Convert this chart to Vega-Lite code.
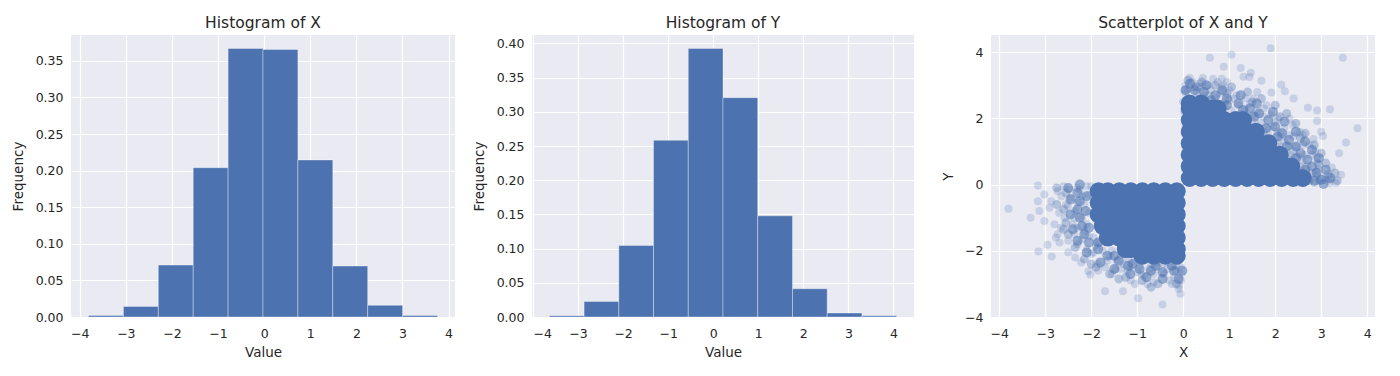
{
  "$schema": "https://vega.github.io/schema/vega-lite/v6.json",
  "padding": {"left": 11, "top": 15, "right": 0, "bottom": 0},
  "background": "white",
  "spacing": 77,
  "bounds": "flush",
  "config": {
    "view": {"fill": "#EAEAF2", "stroke": null},
    "axis": {
      "grid": true, "gridColor": "#FFFFFF", "gridWidth": 1.2, "gridOpacity": 1,
      "domain": false, "ticks": false,
      "labelFont": "DejaVu Sans", "labelFontSize": 12.5, "labelColor": "#262626",
      "titleFont": "DejaVu Sans", "titleFontSize": 13.5, "titleFontWeight": "normal", "titleColor": "#262626",
      "labelPadding": 10, "titlePadding": 6
    },
    "axisY": {"labelPadding": 8, "titlePadding": 9.5},
    "title": {"font": "DejaVu Sans", "fontSize": 15.5, "fontWeight": "normal", "color": "#262626", "offset": 4}
  },
  "datasets": {
    "hx": [
      {"start": -3.81, "end": -3.053, "density": 0.002},
      {"start": -3.053, "end": -2.296, "density": 0.0145},
      {"start": -2.296, "end": -1.539, "density": 0.0709},
      {"start": -1.539, "end": -0.782, "density": 0.204},
      {"start": -0.782, "end": -0.025, "density": 0.367},
      {"start": -0.025, "end": 0.732, "density": 0.3656},
      {"start": 0.732, "end": 1.489, "density": 0.2146},
      {"start": 1.489, "end": 2.246, "density": 0.0696},
      {"start": 2.246, "end": 3.003, "density": 0.0159},
      {"start": 3.003, "end": 3.76, "density": 0.002}
    ],
    "hy": [
      {"start": -3.637, "end": -2.866, "density": 0.0019},
      {"start": -2.866, "end": -2.095, "density": 0.0228},
      {"start": -2.095, "end": -1.325, "density": 0.1046},
      {"start": -1.325, "end": -0.554, "density": 0.2584},
      {"start": -0.554, "end": 0.217, "density": 0.3928},
      {"start": 0.217, "end": 0.988, "density": 0.3207},
      {"start": 0.988, "end": 1.759, "density": 0.1479},
      {"start": 1.759, "end": 2.529, "density": 0.0413},
      {"start": 2.529, "end": 3.3, "density": 0.0058},
      {"start": 3.3, "end": 4.071, "density": 0.0017}
    ],
    "core": [
      {"x":0.14,"y":0.2},{"x":0.39,"y":0.2},{"x":0.64,"y":0.2},{"x":0.89,"y":0.2},{"x":1.14,"y":0.2},{"x":1.39,"y":0.2},{"x":1.64,"y":0.2},{"x":1.89,"y":0.2},{"x":2.14,"y":0.2},{"x":2.39,"y":0.2},{"x":2.6,"y":0.2},
      {"x":0.14,"y":0.55},{"x":0.39,"y":0.55},{"x":0.64,"y":0.55},{"x":0.89,"y":0.55},{"x":1.14,"y":0.55},{"x":1.39,"y":0.55},{"x":1.64,"y":0.55},{"x":1.89,"y":0.55},{"x":2.14,"y":0.55},{"x":2.35,"y":0.55},
      {"x":0.14,"y":0.9},{"x":0.39,"y":0.9},{"x":0.64,"y":0.9},{"x":0.89,"y":0.9},{"x":1.14,"y":0.9},{"x":1.39,"y":0.9},{"x":1.64,"y":0.9},{"x":1.89,"y":0.9},{"x":2.1,"y":0.9},
      {"x":0.14,"y":1.25},{"x":0.39,"y":1.25},{"x":0.64,"y":1.25},{"x":0.89,"y":1.25},{"x":1.14,"y":1.25},{"x":1.39,"y":1.25},{"x":1.64,"y":1.25},{"x":1.85,"y":1.25},
      {"x":0.14,"y":1.6},{"x":0.39,"y":1.6},{"x":0.64,"y":1.6},{"x":0.89,"y":1.6},{"x":1.14,"y":1.6},{"x":1.39,"y":1.6},{"x":1.58,"y":1.6},
      {"x":0.14,"y":1.95},{"x":0.39,"y":1.95},{"x":0.64,"y":1.95},{"x":0.89,"y":1.95},{"x":1.14,"y":1.95},{"x":1.3,"y":1.95},
      {"x":0.14,"y":2.3},{"x":0.39,"y":2.3},{"x":0.64,"y":2.3},{"x":0.75,"y":2.3},
      {"x":0.14,"y":2.45},{"x":0.39,"y":2.45},
      {"x":-0.14,"y":-0.2},{"x":-0.39,"y":-0.2},{"x":-0.64,"y":-0.2},{"x":-0.89,"y":-0.2},{"x":-1.14,"y":-0.2},{"x":-1.39,"y":-0.2},{"x":-1.64,"y":-0.2},{"x":-1.84,"y":-0.2},
      {"x":-0.14,"y":-0.55},{"x":-0.39,"y":-0.55},{"x":-0.64,"y":-0.55},{"x":-0.89,"y":-0.55},{"x":-1.14,"y":-0.55},{"x":-1.39,"y":-0.55},{"x":-1.64,"y":-0.55},{"x":-1.84,"y":-0.55},
      {"x":-0.14,"y":-0.9},{"x":-0.39,"y":-0.9},{"x":-0.64,"y":-0.9},{"x":-0.89,"y":-0.9},{"x":-1.14,"y":-0.9},{"x":-1.39,"y":-0.9},{"x":-1.64,"y":-0.9},{"x":-1.84,"y":-0.9},
      {"x":-0.14,"y":-1.25},{"x":-0.39,"y":-1.25},{"x":-0.64,"y":-1.25},{"x":-0.89,"y":-1.25},{"x":-1.14,"y":-1.25},{"x":-1.39,"y":-1.25},{"x":-1.64,"y":-1.25},{"x":-1.75,"y":-1.25},
      {"x":-0.14,"y":-1.6},{"x":-0.39,"y":-1.6},{"x":-0.64,"y":-1.6},{"x":-0.89,"y":-1.6},{"x":-1.14,"y":-1.6},{"x":-1.39,"y":-1.6},{"x":-1.64,"y":-1.6},
      {"x":-0.14,"y":-1.95},{"x":-0.39,"y":-1.95},{"x":-0.64,"y":-1.95},{"x":-0.89,"y":-1.95},{"x":-1.14,"y":-1.95},{"x":-1.25,"y":-1.95},
      {"x":-0.14,"y":-2.15},{"x":-0.39,"y":-2.15},{"x":-0.64,"y":-2.15},{"x":-0.89,"y":-2.15}
    ],
    "mid": [
      {"x":0.05,"y":2.85},{"x":0.25,"y":2.85},{"x":0.45,"y":2.8},{"x":0.7,"y":2.7},{"x":0.95,"y":2.6},{"x":1.2,"y":2.45},{"x":1.45,"y":2.3},{"x":1.65,"y":2.15},{"x":1.85,"y":1.95},{"x":2.0,"y":1.75},{"x":2.15,"y":1.55},{"x":2.3,"y":1.35},{"x":2.45,"y":1.15},{"x":2.55,"y":0.95},{"x":2.7,"y":0.75},{"x":2.8,"y":0.55},{"x":2.9,"y":0.35},{"x":3.0,"y":0.15},{"x":3.05,"y":0.02},{"x":0.15,"y":3.05},{"x":0.5,"y":3.0},{"x":0.85,"y":2.85},{"x":1.25,"y":2.7},{"x":1.6,"y":2.45},{"x":1.95,"y":2.2},{"x":2.2,"y":1.9},{"x":2.45,"y":1.6},{"x":2.65,"y":1.3},{"x":2.8,"y":1.05},{"x":2.95,"y":0.8},{"x":3.1,"y":0.45},{"x":3.2,"y":0.2},
      {"x":0.95,"y":2.4},{"x":1.3,"y":2.25},{"x":1.55,"y":2.05},{"x":1.8,"y":1.7},{"x":2.05,"y":1.45},{"x":2.25,"y":1.15},{"x":2.45,"y":0.8},{"x":2.65,"y":0.45},{"x":2.85,"y":0.12},{"x":0.6,"y":2.55},
      {"x":-2.25,"y":0.0},{"x":-2.3,"y":-0.25},{"x":-2.25,"y":-0.5},{"x":-2.3,"y":-0.75},{"x":-2.25,"y":-1.0},{"x":-2.2,"y":-1.25},{"x":-2.15,"y":-1.5},{"x":-2.05,"y":-1.75},{"x":-1.85,"y":-1.95},{"x":-1.65,"y":-2.15},{"x":-1.4,"y":-2.3},{"x":-1.2,"y":-2.45},{"x":-0.95,"y":-2.55},{"x":-0.7,"y":-2.6},{"x":-0.45,"y":-2.65},{"x":-0.2,"y":-2.6},{"x":-0.02,"y":-2.6},{"x":-2.5,"y":-0.1},{"x":-2.45,"y":-0.45},{"x":-2.45,"y":-0.9},{"x":-2.4,"y":-1.35},{"x":-2.3,"y":-1.7},{"x":-2.1,"y":-2.05},{"x":-1.8,"y":-2.35},{"x":-1.5,"y":-2.55},{"x":-1.15,"y":-2.7},{"x":-0.8,"y":-2.8},{"x":-0.45,"y":-2.85},{"x":-0.1,"y":-2.85},
      {"x":-2.1,"y":-0.35},{"x":-2.12,"y":-0.8},{"x":-2.05,"y":-1.3},{"x":-1.85,"y":-1.75},{"x":-1.5,"y":-2.15},{"x":-1.1,"y":-2.4},{"x":-0.6,"y":-2.45},{"x":-0.25,"y":-2.45}
    ],
    "mid2": [
      {"x":0.1,"y":3.15},{"x":0.4,"y":3.1},{"x":0.7,"y":3.0},{"x":1.05,"y":2.95},{"x":1.4,"y":2.8},{"x":1.7,"y":2.6},{"x":2.0,"y":2.4},{"x":2.25,"y":2.15},{"x":2.45,"y":1.85},{"x":2.65,"y":1.55},{"x":2.85,"y":1.2},{"x":3.0,"y":0.95},{"x":3.1,"y":0.65},{"x":3.3,"y":0.35},{"x":3.35,"y":0.12},{"x":0.3,"y":2.95},{"x":0.95,"y":2.75},{"x":1.5,"y":2.5},{"x":2.1,"y":2.05},{"x":2.55,"y":1.4},{"x":2.95,"y":0.6},{"x":3.15,"y":0.3},
      {"x":-2.55,"y":-0.25},{"x":-2.6,"y":-0.75},{"x":-2.55,"y":-1.15},{"x":-2.5,"y":-1.5},{"x":-2.35,"y":-1.9},{"x":-2.15,"y":-2.25},{"x":-1.9,"y":-2.5},{"x":-1.6,"y":-2.7},{"x":-1.25,"y":-2.8},{"x":-0.9,"y":-2.9},{"x":-0.55,"y":-3.0},{"x":-0.15,"y":-3.0},{"x":-2.75,"y":-0.1},{"x":-2.75,"y":-0.6},{"x":-2.6,"y":-1.35},{"x":-2.0,"y":-2.4},{"x":-1.4,"y":-2.85},{"x":-0.7,"y":-3.1}
    ],
    "pts": [
      {"x":0.58,"y":3.83},{"x":1.05,"y":3.92},{"x":1.9,"y":4.12},{"x":3.47,"y":3.83},{"x":0.88,"y":3.56},{"x":1.25,"y":3.52},{"x":1.47,"y":3.38},{"x":1.31,"y":3.26},{"x":1.44,"y":3.25},{"x":1.7,"y":3.14},{"x":2.13,"y":3.02},{"x":2.21,"y":2.82},{"x":1.92,"y":2.78},{"x":1.61,"y":2.8},{"x":2.4,"y":2.6},{"x":2.71,"y":2.32},{"x":2.91,"y":2.24},{"x":3.19,"y":2.28},{"x":3.79,"y":1.7},{"x":2.91,"y":1.92},{"x":3.0,"y":1.6},{"x":3.04,"y":1.47},{"x":3.54,"y":1.27},{"x":3.39,"y":0.95},{"x":3.23,"y":0.52},{"x":3.43,"y":0.3},{"x":3.32,"y":0.05},{"x":3.18,"y":0.05},{"x":2.83,"y":1.38},{"x":2.87,"y":1.0},{"x":0.14,"y":3.22},{"x":0.43,"y":3.22},{"x":0.84,"y":3.2},{"x":0.87,"y":3.0},{"x":0.04,"y":2.85},{"x":0.4,"y":2.95},{"x":0.56,"y":2.7},{"x":0.83,"y":2.95},{"x":1.16,"y":2.7},{"x":1.52,"y":2.6},{"x":1.81,"y":2.4},{"x":1.91,"y":2.1},{"x":2.06,"y":2.0},{"x":2.31,"y":2.0},{"x":2.38,"y":1.8},{"x":2.53,"y":1.6},{"x":2.6,"y":1.5},{"x":2.74,"y":1.2},{"x":2.81,"y":0.9},{"x":2.92,"y":0.65},{"x":2.89,"y":0.4},{"x":3.03,"y":0.2},{"x":2.74,"y":0.1},{"x":2.45,"y":0.3},{"x":2.31,"y":1.5},
      {"x":0.05,"y":2.75},{"x":0.15,"y":2.9},{"x":0.3,"y":2.8},{"x":0.45,"y":2.7},{"x":0.6,"y":2.85},{"x":0.2,"y":3.1},{"x":0.35,"y":3.05},{"x":0.7,"y":2.6},{"x":0.9,"y":2.5},{"x":1.0,"y":2.55},{"x":1.2,"y":2.4},{"x":1.35,"y":2.3},{"x":1.45,"y":2.45},{"x":1.6,"y":2.2},{"x":1.75,"y":2.05},{"x":1.7,"y":1.85},{"x":1.95,"y":1.75},{"x":2.05,"y":1.6},{"x":2.0,"y":1.4},{"x":2.2,"y":1.3},{"x":2.3,"y":1.15},{"x":2.4,"y":1.0},{"x":2.5,"y":0.85},{"x":2.35,"y":0.75},{"x":2.6,"y":0.7},{"x":2.7,"y":0.55},{"x":2.55,"y":0.4},{"x":2.8,"y":0.35},{"x":2.9,"y":0.25},{"x":2.75,"y":0.15},{"x":2.95,"y":0.1},{"x":3.1,"y":0.15},{"x":2.6,"y":0.05},{"x":1.5,"y":2.1},{"x":1.85,"y":1.7},{"x":2.15,"y":1.45},{"x":2.45,"y":1.15},{"x":2.65,"y":0.9},{"x":0.8,"y":2.75},{"x":1.1,"y":2.6},{"x":0.55,"y":3.0},{"x":0.25,"y":2.95},{"x":0.75,"y":3.1},{"x":0.95,"y":3.1},{"x":0.9,"y":2.35},{"x":1.25,"y":2.15},{"x":1.55,"y":1.9},{"x":1.85,"y":1.5},{"x":2.1,"y":1.15},{"x":2.35,"y":0.9},{"x":2.55,"y":0.55},{"x":2.7,"y":0.3},{"x":2.85,"y":0.05},{"x":0.1,"y":2.6},{"x":0.3,"y":2.6},{"x":0.5,"y":2.45},{"x":1.05,"y":2.25},{"x":1.4,"y":2.0},{"x":1.75,"y":1.6},{"x":2.05,"y":1.25},{"x":2.25,"y":0.95},{"x":2.45,"y":0.6},{"x":2.6,"y":0.2},{"x":0.05,"y":3.0},{"x":0.0,"y":2.5},{"x":0.02,"y":2.2},{"x":3.2,"y":0.15},{"x":2.95,"y":0.45},{"x":2.9,"y":0.8},{"x":2.6,"y":1.2},{"x":2.4,"y":1.45},{"x":2.2,"y":1.7},{"x":2.0,"y":1.9},{"x":1.75,"y":2.3},{"x":1.35,"y":2.6},{"x":1.0,"y":2.85},{"x":0.65,"y":3.2},
      {"x":-3.8,"y":-0.73},{"x":-3.16,"y":-0.03},{"x":-3.32,"y":-1.0},{"x":-3.13,"y":-0.8},{"x":-3.02,"y":-1.1},{"x":-2.95,"y":-1.82},{"x":-3.15,"y":-2.02},{"x":-2.86,"y":-2.17},{"x":-2.5,"y":-2.05},{"x":-2.69,"y":-1.75},{"x":-2.73,"y":-1.5},{"x":-2.77,"y":-1.6},{"x":-2.22,"y":-2.35},{"x":-2.06,"y":-2.62},{"x":-2.02,"y":-2.72},{"x":-1.7,"y":-3.22},{"x":-1.31,"y":-3.22},{"x":-0.98,"y":-3.43},{"x":-0.45,"y":-3.62},{"x":-0.06,"y":-3.3},{"x":-0.09,"y":-3.05},{"x":-0.78,"y":-3.0},{"x":-0.64,"y":-2.95},{"x":-1.14,"y":-2.9},{"x":-1.47,"y":-2.55},{"x":-1.86,"y":-2.4},{"x":-2.87,"y":-0.5},{"x":-3.02,"y":-0.3},{"x":-2.73,"y":-0.2},{"x":-3.16,"y":-0.5},{"x":-2.91,"y":-0.7},{"x":-2.58,"y":-1.0},{"x":-2.66,"y":-1.3},{"x":-2.37,"y":-1.5},{"x":-2.3,"y":-1.8},{"x":-2.0,"y":-2.1},{"x":-1.65,"y":-2.3},{"x":-1.21,"y":-2.6},{"x":-0.92,"y":-2.7},{"x":-0.42,"y":-2.7},{"x":-0.2,"y":-2.8},{"x":-0.17,"y":-2.6},{"x":-2.48,"y":-0.15},{"x":-2.51,"y":-0.65},{"x":-2.37,"y":-1.0},
      {"x":-2.1,"y":-0.05},{"x":-2.3,"y":-0.1},{"x":-2.2,"y":-0.35},{"x":-2.45,"y":-0.4},{"x":-2.15,"y":-0.6},{"x":-2.35,"y":-0.8},{"x":-2.2,"y":-1.0},{"x":-2.1,"y":-1.2},{"x":-2.3,"y":-1.3},{"x":-2.05,"y":-1.55},{"x":-2.2,"y":-1.65},{"x":-1.9,"y":-1.85},{"x":-1.75,"y":-2.0},{"x":-1.6,"y":-2.15},{"x":-1.45,"y":-2.3},{"x":-1.3,"y":-2.4},{"x":-1.15,"y":-2.5},{"x":-0.95,"y":-2.45},{"x":-0.75,"y":-2.55},{"x":-0.55,"y":-2.5},{"x":-0.35,"y":-2.55},{"x":-0.15,"y":-2.45},{"x":-0.05,"y":-2.7},{"x":-0.3,"y":-2.35},{"x":-0.6,"y":-2.35},{"x":-0.9,"y":-2.3},{"x":-1.2,"y":-2.25},{"x":-2.6,"y":-0.05},{"x":-2.55,"y":-0.6},{"x":-2.4,"y":-1.2},{"x":-1.95,"y":-2.05},{"x":-1.35,"y":-2.55},{"x":-0.85,"y":-2.75},{"x":-0.1,"y":-2.2},{"x":-2.0,"y":-0.05},{"x":-2.25,"y":-0.15},{"x":-2.05,"y":-0.3},{"x":-2.3,"y":-0.55},{"x":-2.05,"y":-0.85},{"x":-2.15,"y":-1.4},{"x":-1.95,"y":-1.6},{"x":-1.85,"y":-1.75},{"x":-1.55,"y":-2.0},{"x":-1.35,"y":-2.15},{"x":-1.05,"y":-2.3},{"x":-0.7,"y":-2.4},{"x":-0.45,"y":-2.4},{"x":-0.05,"y":-2.5},{"x":-2.65,"y":-0.35},{"x":-2.7,"y":-0.85},{"x":-2.5,"y":-1.7},{"x":-2.1,"y":-1.95},{"x":-1.7,"y":-2.5},{"x":-1.0,"y":-2.65},{"x":-0.3,"y":-2.9},{"x":-0.05,"y":-2.9},{"x":-0.65,"y":-2.7},{"x":-2.8,"y":-1.2},{"x":-1.55,"y":-2.7},{"x":-0.1,"y":-3.15},{"x":-0.25,"y":-3.0},{"x":-1.05,"y":-3.0},{"x":-2.35,"y":-2.2},{"x":-1.85,"y":-2.6}
    ]
  },
  "hconcat": [
    {
      "width": 384, "height": 282,
      "title": "Histogram of X",
      "data": {"name": "hx"},
      "mark": {"type": "rect", "color": "#4C72B0", "stroke": "#FFFFFF", "strokeWidth": 0.7, "strokeOpacity": 0.5},
      "encoding": {
        "x": {"field": "start", "type": "quantitative", "scale": {"domain": [-4.19, 4.14], "nice": false, "zero": false},
              "axis": {"title": "Value", "values": [-4, -3, -2, -1, 0, 1, 2, 3, 4], "format": "d"}},
        "x2": {"field": "end"},
        "y": {"field": "density", "type": "quantitative", "scale": {"domain": [0, 0.3854], "nice": false},
              "axis": {"title": "Frequency", "values": [0, 0.05, 0.1, 0.15, 0.2, 0.25, 0.3, 0.35], "format": ".2f"}},
        "y2": {"datum": 0}
      }
    },
    {
      "width": 382, "height": 282,
      "title": "Histogram of Y",
      "data": {"name": "hy"},
      "mark": {"type": "rect", "color": "#4C72B0", "stroke": "#FFFFFF", "strokeWidth": 0.7, "strokeOpacity": 0.5},
      "encoding": {
        "x": {"field": "start", "type": "quantitative", "scale": {"domain": [-4.022, 4.456], "nice": false, "zero": false},
              "axis": {"title": "Value", "values": [-4, -3, -2, -1, 0, 1, 2, 3, 4], "format": "d"}},
        "x2": {"field": "end"},
        "y": {"field": "density", "type": "quantitative", "scale": {"domain": [0, 0.4124], "nice": false},
              "axis": {"title": "Frequency", "values": [0, 0.05, 0.1, 0.15, 0.2, 0.25, 0.3, 0.35, 0.4], "format": ".2f"}},
        "y2": {"datum": 0}
      }
    },
    {
      "width": 384, "height": 282,
      "title": "Scatterplot of X and Y",
      "layer": [
        {
          "data": {"name": "core"},
          "mark": {"type": "circle", "color": "#4C72B0", "opacity": 1, "size": 320},
          "encoding": {
            "x": {"field": "x", "type": "quantitative", "scale": {"domain": [-4.18, 4.17], "nice": false, "zero": false},
                  "axis": {"title": "X", "values": [-4, -3, -2, -1, 0, 1, 2, 3, 4], "format": "d"}},
            "y": {"field": "y", "type": "quantitative", "scale": {"domain": [-4.0, 4.52], "nice": false, "zero": false},
                  "axis": {"title": "Y", "values": [-4, -3, -2, -1, 0, 1, 2, 3, 4], "format": "d"}}
          }
        },
        {
          "data": {"name": "mid"},
          "mark": {"type": "circle", "color": "#4C72B0", "opacity": 0.55, "size": 100},
          "encoding": {
            "x": {"field": "x", "type": "quantitative"},
            "y": {"field": "y", "type": "quantitative"}
          }
        },
        {
          "data": {"name": "mid2"},
          "mark": {"type": "circle", "color": "#4C72B0", "opacity": 0.35, "size": 80},
          "encoding": {
            "x": {"field": "x", "type": "quantitative"},
            "y": {"field": "y", "type": "quantitative"}
          }
        },
        {
          "data": {"name": "pts"},
          "mark": {"type": "circle", "color": "#4C72B0", "opacity": 0.22, "size": 64},
          "encoding": {
            "x": {"field": "x", "type": "quantitative"},
            "y": {"field": "y", "type": "quantitative"}
          }
        }
      ]
    }
  ]
}
